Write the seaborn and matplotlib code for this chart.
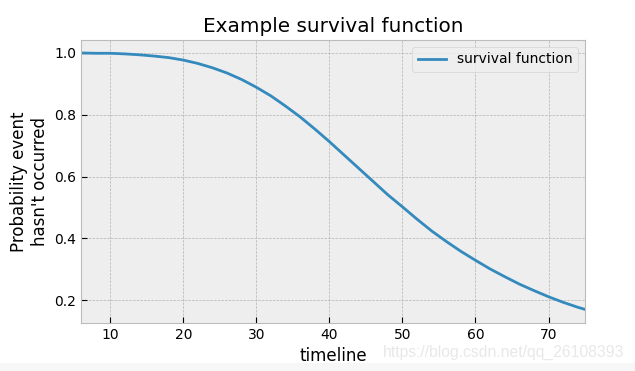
import pandas as pd
import matplotlib
matplotlib.use("Agg")
import matplotlib.pyplot as plt
import seaborn as sns

# values
timeline = [6, 8, 10, 12, 14, 16, 18, 20, 22, 24, 26, 28, 30, 32, 34, 36, 38,
            40, 42, 44, 46, 48, 50, 52, 54, 56, 58, 60, 62, 64, 66, 68, 70,
            72, 74, 75]
survival = [1.000, 0.999, 0.999, 0.997, 0.994, 0.990, 0.985, 0.977, 0.966,
            0.952, 0.935, 0.914, 0.889, 0.861, 0.828, 0.793, 0.754, 0.713,
            0.670, 0.627, 0.584, 0.541, 0.502, 0.462, 0.424, 0.390, 0.358,
            0.329, 0.301, 0.276, 0.252, 0.231, 0.211, 0.193, 0.177, 0.170]

plt.style.use("bmh")

df = pd.DataFrame({"timeline": timeline, "survival function": survival})

fig = plt.figure(figsize=(6.35, 3.71), dpi=100)
ax = fig.add_axes([0.1276, 0.1294, 0.7937, 0.7628])

sns.lineplot(data=df, x="timeline", y="survival function", ax=ax,
             color="#348ABD", linewidth=2, label="survival function")

ax.set_xlim(6, 75)
ax.set_ylim(0.126, 1.042)
ax.set_xticks([10, 20, 30, 40, 50, 60, 70])
ax.set_yticks([0.2, 0.4, 0.6, 0.8, 1.0])
ax.tick_params(direction="in", length=4, color="black", labelsize=10)
ax.set_title("Example survival function", fontsize=14.4)
ax.set_xlabel("timeline", fontsize=12)
ax.set_ylabel("Probability event\nhasn't occurred", fontsize=12)
ax.legend(loc="upper right", fontsize=10)

# bottom strip + watermark from the source image
fig.patches.append(plt.Rectangle((0, 0), 1, 8 / 371, transform=fig.transFigure,
                                 color="#f7f7f7", zorder=0))
fig.text(383 / 635, 1 - 357 / 371, "https://blog.csdn.net/qq_26108393",
         family="Liberation Sans", fontsize=11.3, color="#e8e8e8")

fig.savefig("out.png", dpi=100)
